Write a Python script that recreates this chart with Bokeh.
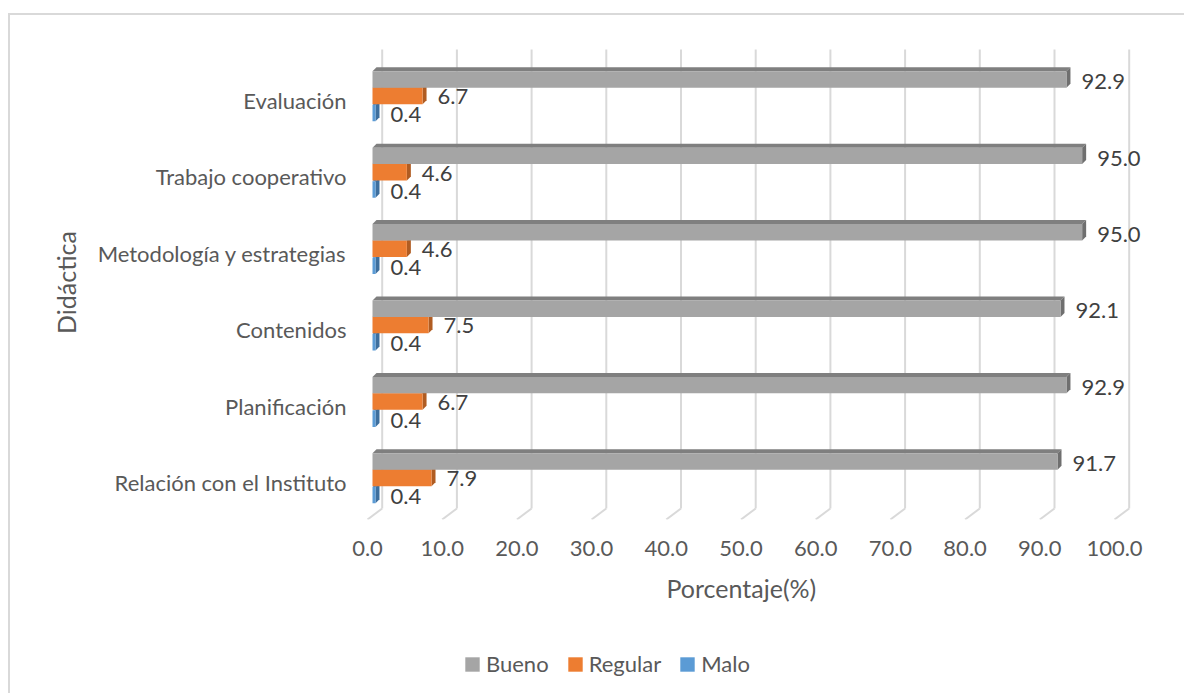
from bokeh.plotting import figure
from bokeh.layouts import column
from bokeh.models import (Range1d, LinearAxis, FixedTicker, Legend, LegendItem, Title)
from bokeh.core.properties import value
from bokeh.embed import file_html
from bokeh.resources import INLINE

# ---------------- data ----------------
categories = ["Relación con el Instituto", "Planificación", "Contenidos",
              "Metodología y estrategias", "Trabajo cooperativo", "Evaluación"]
bueno = [91.7, 92.9, 92.1, 95.0, 95.0, 92.9]
regular = [7.9, 6.7, 7.5, 4.6, 4.6, 6.7]
malo = [0.4, 0.4, 0.4, 0.4, 0.4, 0.4]
x_ticks = [0, 10, 20, 30, 40, 50, 60, 70, 80, 90, 100]
x_tick_labels = ["0.0", "10.0", "20.0", "30.0", "40.0", "50.0", "60.0",
                 "70.0", "80.0", "90.0", "100.0"]
series_names = ["Bueno", "Regular", "Malo"]

# ---------------- styling ----------------
FONT = "Lato"
FS = "22px"
FS_T = "25px"
TXT = "#595959"
W = 1174
H1, H2 = 622, 56
FL, FR, FT, FB = 350, 1140, 30, 504      # frame in canvas px
XS = 7.47                                 # px per data unit (x)
YS = 76.4                                 # px per category (y)
x0px = 362                                # canvas px of value 0 (bar front)
ycat0 = 467                               # canvas px of first category centre

xstart = (FL - x0px) / XS
xend = xstart + (FR - FL) / XS
ystart = (ycat0 - FB) / YS
yend = (ycat0 - FT) / YS

DX = 4 / XS
DY = 4 / YS
BACK = 9.7 / XS
FRONT = -5 / XS
Y_TOP = (ycat0 - 34) / YS
Y_BACK = (ycat0 - 493) / YS
Y_FRONT = ystart

p = figure(width=W, height=H1, output_backend="svg", toolbar_location=None,
           x_range=Range1d(xstart, xend), y_range=Range1d(ystart, yend),
           x_axis_location=None, min_border_left=FL, min_border_right=W - FR,
           min_border_top=FT, min_border_bottom=H1 - FB)
p.extra_x_ranges = {"tick": Range1d(xstart - FRONT, xend - FRONT)}
p.grid.visible = False
p.outline_line_color = None
p.background_fill_color = "white"
p.border_fill_color = "white"

# gridlines (back wall + floor diagonal)
p.segment(x0=[t + BACK for t in x_ticks], y0=[Y_TOP] * len(x_ticks),
          x1=[t + BACK for t in x_ticks], y1=[Y_BACK] * len(x_ticks),
          line_color="#d9d9d9", line_width=2)
p.segment(x0=[t + BACK for t in x_ticks], y0=[Y_BACK] * len(x_ticks),
          x1=[t + FRONT for t in x_ticks], y1=[Y_FRONT] * len(x_ticks),
          line_color="#d9d9d9", line_width=2)

series = [
    # name, values, offset, front, top, side, label nudge
    ("Malo", malo, -0.165, "#5b9bd5", "#4a86bf", "#3d6f9e", -0.02),
    ("Regular", regular, 0.06, "#ed7d31", "#c9652a", "#b05c22", -0.01),
    ("Bueno", bueno, 0.275, "#a5a5a5", "#7f7f7f", "#6f6f6f", -0.03),
]
colors = {s[0]: s[3] for s in series}
BH = 0.215
for name, vals, off, cf, ct, cs, nudge in series:
    ys = [i + off for i in range(len(vals))]
    yt = [y + BH / 2 for y in ys]
    yb = [y - BH / 2 for y in ys]
    top_xs = [[0, v, v + DX, DX] for v in vals]
    top_ys = [[a, a, a + DY, a + DY] for a in yt]
    side_xs = [[v, v, v + DX, v + DX] for v in vals]
    side_ys = [[b, a, a + DY, b + DY] for a, b in zip(yt, yb)]
    p.patches(xs=top_xs, ys=top_ys, fill_color=ct, line_color=None)
    p.patches(xs=side_xs, ys=side_ys, fill_color=cs, line_color=None)
    p.hbar(y=ys, left=0, right=vals, height=BH, fill_color=cf, line_color=None)
    p.text(x=vals, y=[y + nudge for y in ys], text=[f"{v:.1f}" for v in vals],
           x_offset=15, text_baseline="middle", text_align="left",
           text_font=value(FONT), text_font_size=FS, text_color="#404040")

# y axis (categories)
ya = p.yaxis[0]
ya.ticker = FixedTicker(ticks=list(range(len(categories))))
ya.major_label_overrides = {i: c for i, c in enumerate(categories)}
ya.axis_line_color = None
ya.major_tick_line_color = None
ya.minor_tick_line_color = None
ya.major_tick_out = 0
ya.major_tick_in = 0
ya.major_label_standoff = 14
ya.major_label_text_font = FONT
ya.major_label_text_font_size = FS
ya.major_label_text_color = TXT
ya.axis_label = "Didáctica"
ya.axis_label_text_font = FONT
ya.axis_label_text_font_size = FS_T
ya.axis_label_text_font_style = "normal"
ya.axis_label_text_color = TXT
ya.axis_label_standoff = 14

# x axis (front floor)
xa = LinearAxis(x_range_name="tick", ticker=FixedTicker(ticks=x_ticks),
                major_label_overrides={t: l for t, l in zip(x_ticks, x_tick_labels)})
xa.axis_line_color = None
xa.major_tick_line_color = None
xa.minor_tick_line_color = None
xa.major_tick_out = 0
xa.major_tick_in = 0
xa.major_label_standoff = 21
xa.major_label_text_font = FONT
xa.major_label_text_font_size = FS
xa.major_label_text_color = TXT
p.add_layout(xa, "below")

p.add_layout(Title(text="Porcentaje(%)", align="left", offset=306,
                   vertical_align="top",
                   text_font=FONT, text_font_size=FS_T, text_font_style="normal",
                   text_color=TXT, standoff=28), "below")

# ---------------- legend strip ----------------
q = figure(width=W, height=H2, output_backend="svg", toolbar_location=None,
           x_range=Range1d(0, 1), y_range=Range1d(0, 1),
           x_axis_location=None, y_axis_location=None,
           min_border_left=0, min_border_right=0, min_border_top=0, min_border_bottom=0)
q.grid.visible = False
q.outline_line_color = None
q.background_fill_color = "white"
q.border_fill_color = "white"
items = []
for n in series_names:
    # legend key renderer, kept outside the visible range of the strip
    r = q.quad(left=[0], right=[1], bottom=[-6], top=[-5], fill_color=colors[n],
               line_color=None)
    items.append(LegendItem(label=n, renderers=[r]))
legend = Legend(items=items, orientation="horizontal", location=(103, 16),
                glyph_width=18, glyph_height=18, label_standoff=5, spacing=17,
                padding=0, margin=0, border_line_color=None, background_fill_alpha=0,
                label_text_font=FONT, label_text_font_size=FS, label_text_color=TXT)
q.add_layout(legend, "center")

layout = column(p, q, spacing=0,
                styles={"margin-left": "8px", "margin-top": "13px",
                        "border-left": "2px solid #d9d9d9",
                        "border-top": "2px solid #d9d9d9"})
open("out.html", "w").write(file_html(layout, INLINE))
